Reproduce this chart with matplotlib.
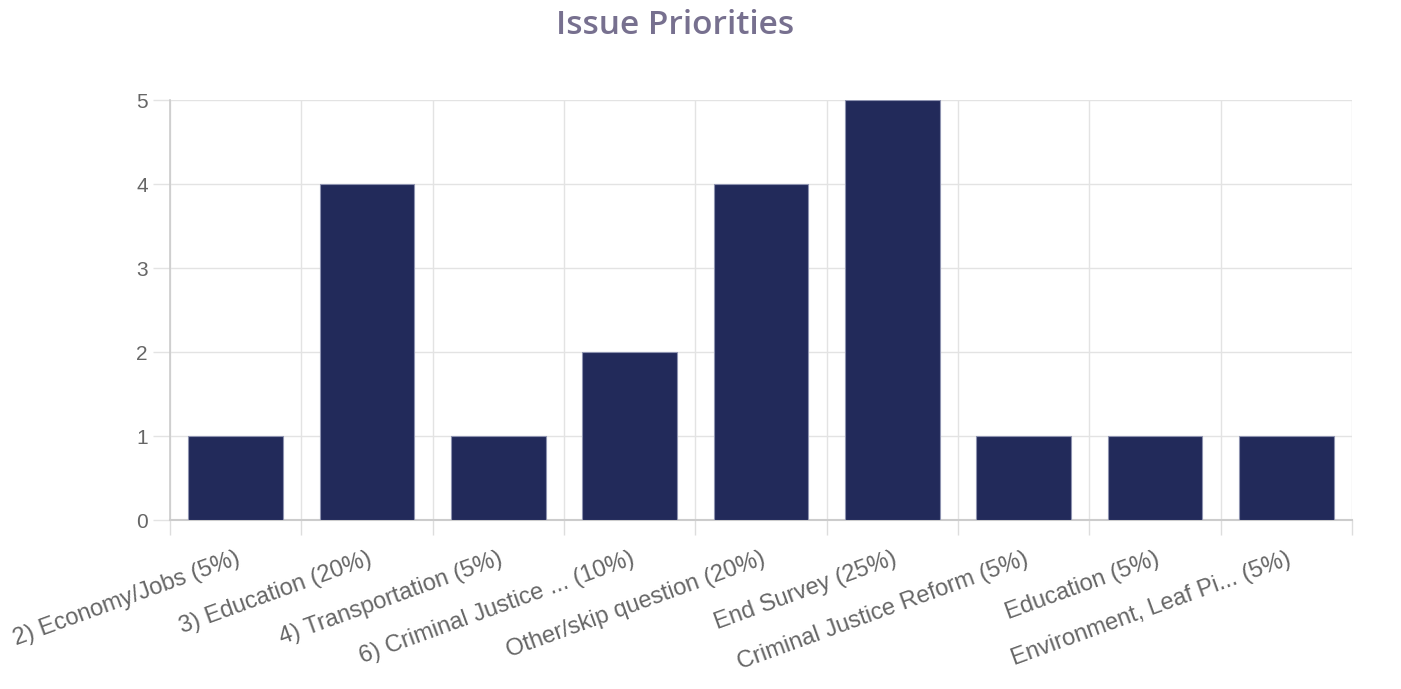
import matplotlib
matplotlib.use("Agg")
import matplotlib.pyplot as plt
import numpy as np

categories = ["2) Economy/Jobs (5%)", "3) Education (20%)", "4) Transportation (5%)",
              "6) Criminal Justice ... (10%)", "Other/skip question (20%)", "End Survey (25%)",
              "Criminal Justice Reform (5%)", "Education (5%)", "Environment, Leaf Pi... (5%)"]
values = [1, 4, 1, 2, 4, 5, 1, 1, 1]
yticks = [0, 1, 2, 3, 4, 5]

plt.rcParams['font.family'] = ['Liberation Sans', 'DejaVu Sans']

fig = plt.figure(figsize=(14.01, 6.89), dpi=100)
ax = fig.add_axes([170/1401, 1-520/689, (1352-170)/1401, 420/689])

x = np.arange(len(categories))
ax.bar(x, values, width=0.72, color="#222A5A", edgecolor="#8E93B0", linewidth=0.8, zorder=3)

ax.set_xlim(-0.5, len(categories)-0.5)
ax.set_ylim(0, 5)
ax.set_yticks(yticks)
ax.set_xticks(x)
ax.set_xticklabels(categories, rotation=20, ha='right', rotation_mode='anchor',
                   fontsize=17, color="#666666")
ax.set_xticks(np.arange(-0.5, len(categories)), minor=True)
ax.tick_params(axis='x', which='major', length=0, pad=20)
ax.tick_params(axis='x', which='minor', length=11, color="#DDDDDD", width=1)
ax.tick_params(axis='y', length=12, color="#E3E3E3", width=1, labelsize=15, labelcolor="#666666", pad=4)
ax.grid(True, axis='y', color="#E3E3E3", linewidth=1, zorder=0)
ax.grid(True, axis='x', which='minor', color="#E3E3E3", linewidth=1, zorder=0)
for s in ['top', 'right']:
    ax.spines[s].set_visible(False)
ax.spines['left'].set_color("#CCCCCC")
ax.spines['bottom'].set_color("#CCCCCC")
ax.spines['left'].set_linewidth(1.2)
ax.spines['bottom'].set_linewidth(1.5)

fig.text(675/1401, 1-25/689, "Issue Priorities", ha='center', va='center', fontsize=24,
         color="#77708F", family=['Open Sans', 'DejaVu Sans'], fontweight='semibold')

fig.savefig("out.png", dpi=100)
